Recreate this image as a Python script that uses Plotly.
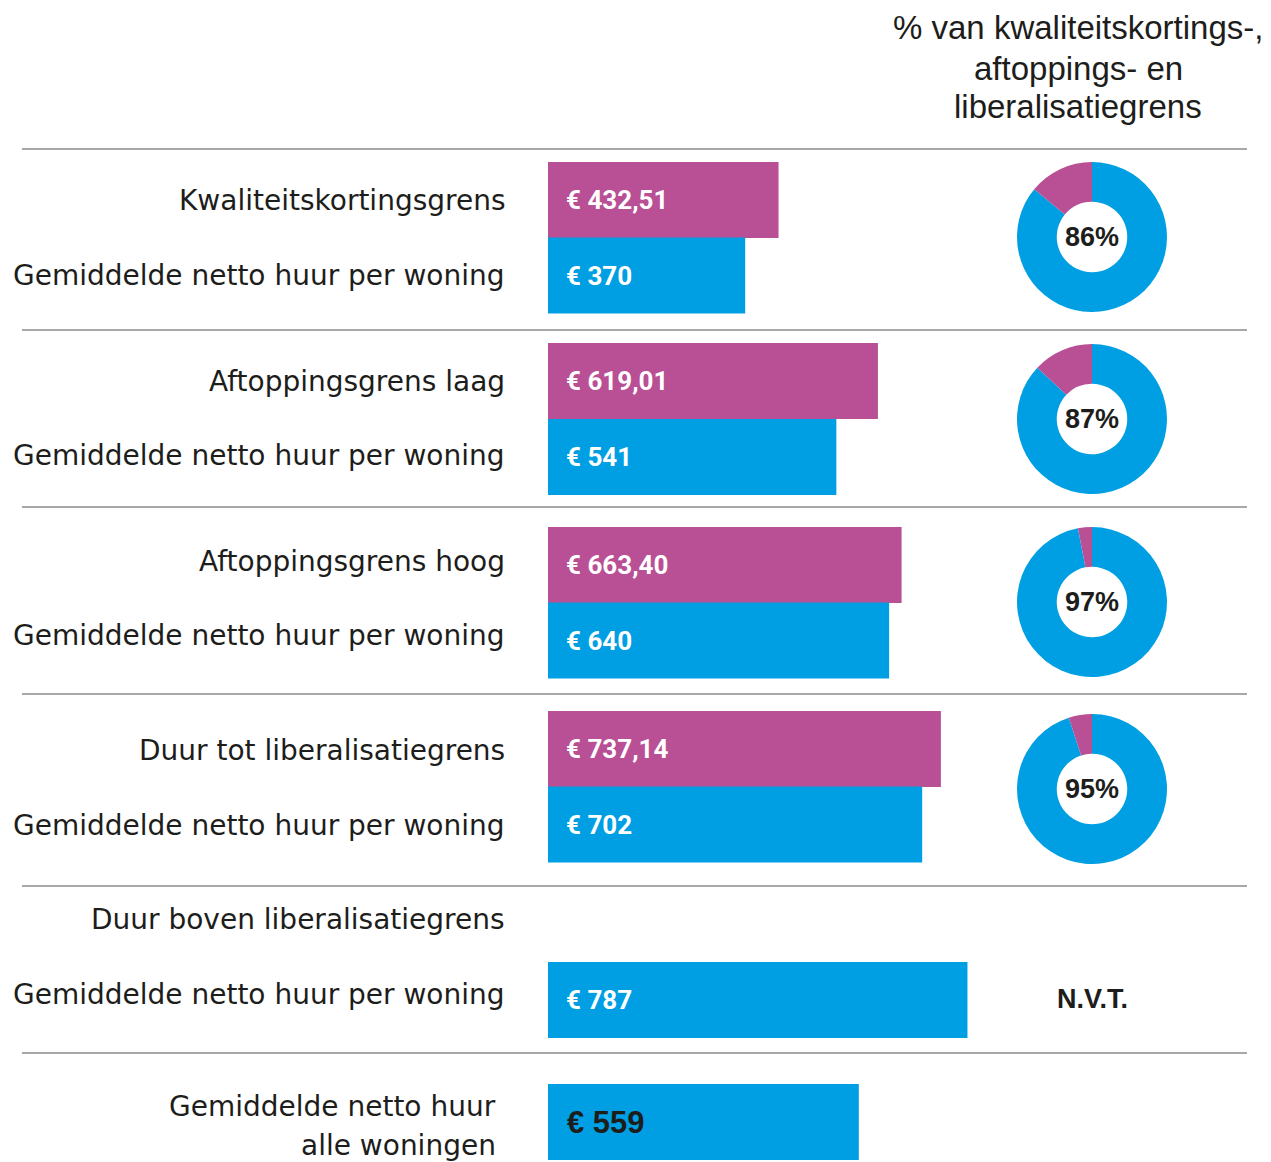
import plotly.graph_objects as go

# ---- data ----
row_titles = ["Kwaliteitskortingsgrens", "Aftoppingsgrens laag", "Aftoppingsgrens hoog",
              "Duur tot liberalisatiegrens", "Duur boven liberalisatiegrens"]
sub_label = "Gemiddelde netto huur per woning"
limit_values = [432.51, 619.01, 663.40, 737.14]
limit_texts = ["€ 432,51", "€ 619,01", "€ 663,40", "€ 737,14"]
rent_values = [370, 541, 640, 702, 787]
rent_texts = ["€ 370", "€ 541", "€ 640", "€ 702", "€ 787"]
pct_values = [86, 87, 97, 95]
pct_texts = ["86%", "87%", "97%", "95%"]
total_value = 559
total_text = "€ 559"
total_label = ["Gemiddelde netto huur", "alle woningen"]
header_lines = ["% van kwaliteitskortings-,", "aftoppings- en", "liberalisatiegrens"]
nvt_text = "N.V.T."

# ---- layout constants (page pixels) ----
W, H = 1271, 1162
OFF = 8             # page body margin
PURPLE = "#b94f94"
BLUE = "#009fe3"
DARK = "#1d1d1b"
X0 = 548            # page pixel where bars start
PX_PER_EUR = 0.533
PX_PER_EUR_TOTAL = 0.556
limit_y = [200, 381, 565, 749]
rent_y = [275.5, 457, 640.5, 824.5, 1000]
title_y = [200, 381, 561, 750, 919]
sub_y = [275, 455, 635, 825, 994]
total_y = 1122
donut_cy = [237, 419, 602, 789]
donut_cx = 1092
donut_r = 75
sep_y = [149, 330, 507, 694, 886, 1053]
BAR_H = 76


def px(x):
    return (x - OFF) / W


def py(y):
    return 1 - (y - OFF) / H


xr = [-(X0 - OFF) / PX_PER_EUR, (W - X0 + OFF) / PX_PER_EUR]
xr2 = [-(X0 - OFF) / PX_PER_EUR_TOTAL, (W - X0 + OFF) / PX_PER_EUR_TOTAL]

fig = go.Figure()
fig.add_trace(go.Bar(orientation="h", x=limit_values, y=limit_y, width=BAR_H,
                     marker=dict(color=PURPLE, line=dict(width=0)), hoverinfo="skip"))
fig.add_trace(go.Bar(orientation="h", x=rent_values, y=rent_y, width=BAR_H,
                     marker=dict(color=BLUE, line=dict(width=0)), hoverinfo="skip"))
fig.add_trace(go.Bar(orientation="h", x=[total_value], y=[total_y], width=BAR_H, xaxis="x2",
                     marker=dict(color=BLUE, line=dict(width=0)), hoverinfo="skip"))

for i, p in enumerate(pct_values):
    cy = donut_cy[i]
    fig.add_trace(go.Pie(values=[p, 100 - p], marker=dict(colors=[BLUE, PURPLE], line=dict(width=0)),
                         hole=0.47, sort=False, direction="clockwise", rotation=0,
                         textinfo="none", hoverinfo="skip", showlegend=False,
                         domain=dict(x=[px(donut_cx - donut_r), px(donut_cx + donut_r)],
                                     y=[py(cy + donut_r), py(cy - donut_r)])))

ann = []
label_font = dict(family="DejaVu Sans, sans-serif", size=28, color=DARK)
for i, t in enumerate(row_titles):
    ann.append(dict(x=px(507), xref="paper", y=title_y[i], yref="y", text=t, showarrow=False,
                    xanchor="right", yanchor="middle", font=label_font))
    ann.append(dict(x=px(507), xref="paper", y=sub_y[i], yref="y", text=sub_label, showarrow=False,
                    xanchor="right", yanchor="middle", font=label_font))
ann.append(dict(x=px(498), xref="paper", y=1106, yref="y", text=total_label[0], showarrow=False,
                xanchor="right", yanchor="middle", font=label_font))
ann.append(dict(x=px(498), xref="paper", y=1145, yref="y", text=total_label[1], showarrow=False,
                xanchor="right", yanchor="middle", font=label_font))

bar_font = dict(family="Roboto, Liberation Sans, sans-serif", size=26, color="white")
for i, t in enumerate(limit_texts):
    ann.append(dict(x=px(564), xref="paper", y=limit_y[i], yref="y", text="<b>%s</b>" % t,
                    showarrow=False, xanchor="left", yanchor="middle", font=bar_font))
for i, t in enumerate(rent_texts):
    ann.append(dict(x=px(564), xref="paper", y=rent_y[i], yref="y", text="<b>%s</b>" % t,
                    showarrow=False, xanchor="left", yanchor="middle", font=bar_font))
ann.append(dict(x=px(565), xref="paper", y=total_y, yref="y", text="<b>%s</b>" % total_text,
                showarrow=False, xanchor="left", yanchor="middle",
                font=dict(family="Liberation Sans, sans-serif", size=31, color=DARK)))

for i, t in enumerate(pct_texts):
    ann.append(dict(x=px(donut_cx), xref="paper", y=donut_cy[i], yref="y", text="<b>%s</b>" % t,
                    showarrow=False, xanchor="center", yanchor="middle",
                    font=dict(family="Liberation Sans, Arial, sans-serif", size=27, color=DARK)))
ann.append(dict(x=px(donut_cx), xref="paper", y=999, yref="y", text="<b>%s</b>" % nvt_text,
                showarrow=False, xanchor="center", yanchor="middle",
                font=dict(family="Liberation Sans, sans-serif", size=27, color=DARK)))

header_y = [27, 68, 106]
for i, t in enumerate(header_lines):
    ann.append(dict(x=px(1078), xref="paper", y=header_y[i], yref="y", text=t, showarrow=False,
                    xanchor="center", yanchor="middle",
                    font=dict(family="Liberation Sans, sans-serif", size=33, color=DARK)))

shapes = [dict(type="line", xref="paper", yref="y", x0=px(22), x1=px(1247), y0=y, y1=y,
               line=dict(color="#a8a8a8", width=2)) for y in sep_y]

fig.update_layout(
    width=W, height=H, margin=dict(l=0, r=0, t=0, b=0),
    paper_bgcolor="white", plot_bgcolor="white", showlegend=False, barmode="overlay",
    xaxis=dict(range=xr, domain=[0, 1], visible=False, fixedrange=True),
    xaxis2=dict(range=xr2, domain=[0, 1], visible=False, fixedrange=True, overlaying="x"),
    yaxis=dict(range=[H + OFF, OFF], domain=[0, 1], visible=False, fixedrange=True),
    annotations=ann, shapes=shapes,
)
fig.write_html("out.html")
